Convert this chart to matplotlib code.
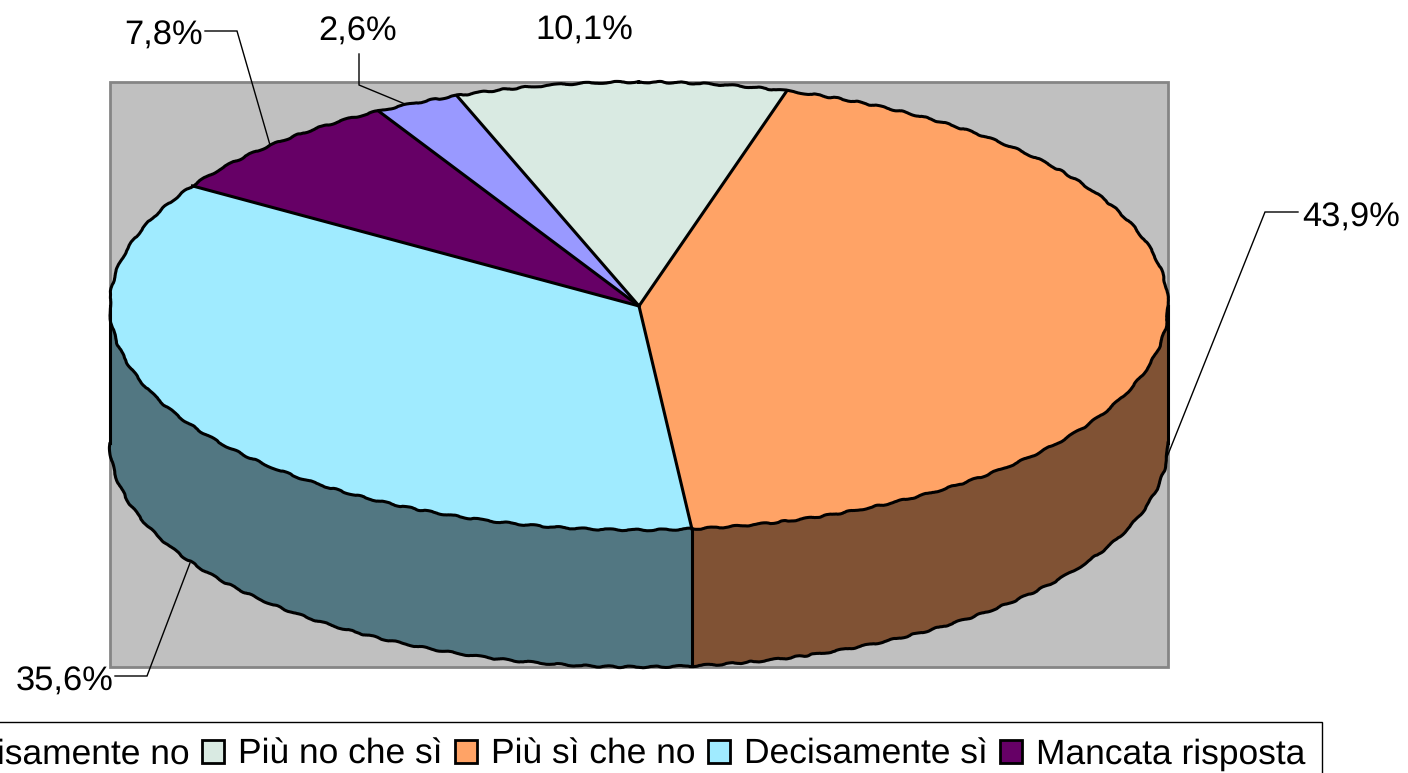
import numpy as np
from matplotlib import pyplot as plt
from matplotlib.patches import Rectangle, Polygon

plt.rcParams['font.family'] = ['Liberation Sans', 'DejaVu Sans']
plt.rcParams['text.hinting'] = 'none'

categories = ["Decisamente no", "Più no che sì", "Più sì che no", "Decisamente sì", "Mancata risposta"]
values = [2.6, 10.1, 43.9, 35.6, 7.8]
slice_colors = ["#9999FF", "#D9EAE2", "#FFA366", "#A0EBFF", "#660066"]
side_colors = ["#4C4C80", "#6D7571", "#805234", "#527782", "#330033"]

W, H = 1408, 773
CX, CY, RX, RY = 639, 306, 529, 224
DEPTH = 137 / RY
START = -29.5  # degrees clockwise from the top
ROUGH = (0.8, 30, 3)  # the outline of the original is slightly jagged

fig = plt.figure(figsize=(W / 100, H / 100), dpi=100)

# pixel coordinates for the backdrop, leader lines and labels
bg = fig.add_axes([0, 0, 1, 1], zorder=0)
bg.set_xlim(0, W)
bg.set_ylim(H, 0)
bg.set_axis_off()
bg.add_patch(Rectangle((110, 82), 1058, 585, facecolor="#C0C0C0", edgecolor="#858585", lw=2))

leaders = [
    ([205, 237, 270], [31, 31, 145]),
    ([359, 359, 405], [54, 85, 104]),
    ([1298, 1265, 1167], [212, 212, 457]),
    ([115, 147, 190], [676, 676, 563]),
]
for xs, ys in leaders:
    bg.plot(xs, ys, color="black", lw=1.0, solid_joinstyle="miter")

label_pos = [(358, 32), (584, 31), (1351, 218), (65, 682), (164, 36)]
for (x, y), v in zip(label_pos, values):
    bg.text(x, y, f"{v:.1f}%".replace(".", ","), fontsize=24.8, ha="center", va="center", color="black")

# the pie sits in an axes that is stretched to the ellipse
ax = fig.add_axes([(CX - RX) / W, 1 - (CY + RY) / H, 2 * RX / W, 2 * RY / H], zorder=1)
wedges, _ = ax.pie(values, colors=slice_colors, startangle=90 - START, counterclock=False,
                   radius=1, wedgeprops=dict(edgecolor="none"))
ax.set_aspect("auto")
ax.set_xlim(-1, 1)
ax.set_ylim(-1, 1)
ax.patch.set_alpha(0)
for w in wedges:
    w.set_clip_on(False)
    w.set_zorder(3)

edges = START + np.cumsum([0] + values) * 3.6

# side wall: only the front half of each slice shows
for a0, a1, col in zip(edges[:-1], edges[1:], side_colors):
    lo, hi = max(a0, 90), min(a1, 270)
    if hi <= lo:
        continue
    t = np.radians(np.linspace(lo, hi, 120))
    x, y = np.sin(t), np.cos(t)
    pts = np.r_[np.c_[x, y], np.c_[x[::-1], y[::-1] - DEPTH]]
    ax.add_patch(Polygon(pts, closed=True, facecolor=col, edgecolor="none", clip_on=False, zorder=2))
    # straight seam down the wall where a slice ends inside the front half
    if a1 < 270:
        ax.plot([x[-1], x[-1]], [y[-1], y[-1] - DEPTH], color="black", lw=2.2, clip_on=False, zorder=4)

# outlines go on top so the arcs can be rough while the spokes stay straight
t = np.radians(np.linspace(0, 360, 721))
top_arc, = ax.plot(np.sin(t), np.cos(t), color="black", lw=2.2, clip_on=False, zorder=4)
top_arc.set_sketch_params(*ROUGH)
t = np.radians(np.linspace(90, 270, 361))
low_arc, = ax.plot(np.sin(t), np.cos(t) - DEPTH, color="black", lw=2.2, clip_on=False, zorder=4)
low_arc.set_sketch_params(*ROUGH)
for sx in (-1, 1):
    ax.plot([sx, sx], [0, -DEPTH], color="black", lw=2.2, clip_on=False, zorder=4)
for a in np.radians(edges[:-1]):
    ax.plot([0, np.sin(a)], [0, np.cos(a)], color="black", lw=2.2, clip_on=False, zorder=4)

leg = fig.legend(wedges, categories, ncol=5, loc="upper right",
                 bbox_to_anchor=(1322 / W, 1 - 722 / H), fontsize=25.5, frameon=True, fancybox=False,
                 edgecolor="black", framealpha=1, handlelength=0.62, handleheight=0.62,
                 handletextpad=0.4, columnspacing=0.35, borderpad=0.46, borderaxespad=0)
leg.get_frame().set_linewidth(1.0)
for h in leg.legend_handles:
    h.set_edgecolor("black")
    h.set_linewidth(2.0)

fig.savefig("out.png", dpi=100)
